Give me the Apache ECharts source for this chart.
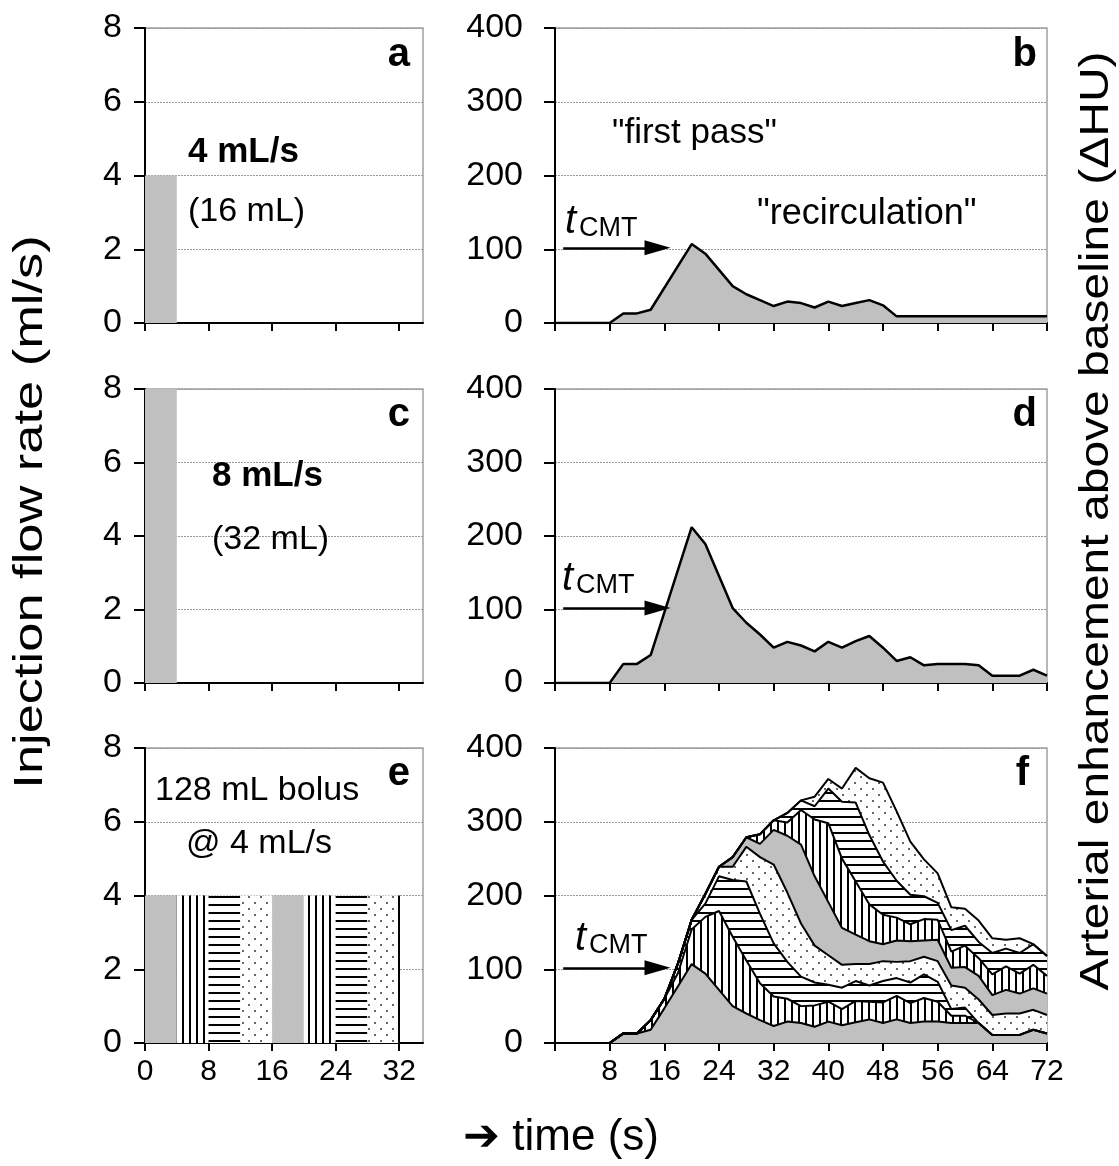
<!DOCTYPE html>
<html><head><meta charset="utf-8">
<script src="https://cdn.jsdelivr.net/npm/echarts@6/dist/echarts.min.js"></script>
<style>html,body{margin:0;padding:0;background:#fff}#c{width:1119px;height:1166px}</style>
</head><body><div id="c"></div>
<script>
// ---------- data ----------
const leftTimeTicks = [0, 8, 16, 24, 32];
const rightTimeTicks = [8, 16, 24, 32, 40, 48, 56, 64, 72];
// injection panels (time s, rate mL/s)
const injTimeA = [0, 4];  const injRateA = [4, 4];
const injTimeC = [0, 4];  const injRateC = [8, 8];
const injStartE = [0, 4, 8, 12, 16, 20, 24, 28];
const injEndE   = [4, 8, 12, 16, 20, 24, 28, 32];
const injRateE  = 4;
// panel b : 4 mL/s, 16 mL
const timeB = [0, 8, 10, 12, 14, 20, 22, 26, 28, 30, 32, 34, 36, 38, 40, 42, 44, 46, 48, 50, 72];
const huB   = [0, 0, 13, 13, 18, 107, 94, 50, 39, 31, 23, 29, 27, 21, 29, 23, 27, 31, 24, 9, 9];
// panel d : 8 mL/s, 32 mL
const timeD = [0, 8, 10, 12, 14, 20, 22, 26, 28, 30, 32, 34, 36, 38, 40, 42, 44, 46, 48, 50, 52, 54, 56, 58, 60, 62, 64, 66, 68, 70, 72];
const huD   = [0, 0, 26, 26, 38, 212, 189, 102, 82, 66, 48, 56, 51, 43, 56, 48, 57, 64, 48, 30, 35, 24, 26, 26, 26, 24, 10, 10, 10, 18, 10];
// panel f : eight 16 mL sub-boluses, response of each (every 2 s), stacked bottom -> top
const timeF = [0,2,4,6,8,10,12,14,16,18,20,22,24,26,28,30,32,34,36,38,40,42,44,46,48,50,52,54,56,58,60,62,64,66,68,70,72];
const huF1 = [0,0,0,0,0,13,13,18,47,77,107,94,72,50,40,31,23,29,27,22,29,24,28,32,27,32,27,29,29,27,27,27,11,11,11,18,13];
const huF2 = [0,0,0,0,0,0,0,13,13,18,47,77,107,94,72,50,40,31,23,29,27,22,29,24,28,32,27,32,27,10,10,0,0,0,0,0,0];
const huF3 = [0,0,0,0,0,0,0,0,0,13,13,18,47,77,107,94,72,50,40,31,23,29,27,22,29,24,28,32,27,9,11,0,0,0,0,0,0];
const huF4 = [0,0,0,0,0,0,0,0,0,0,0,13,13,18,47,77,107,94,72,50,40,31,23,29,27,22,29,24,28,32,27,32,27,29,29,27,25];
const huF5 = [0,0,0,0,0,0,0,0,0,0,0,0,0,13,13,18,47,77,107,94,72,50,40,31,23,29,27,22,29,24,28,32,27,32,27,29,29];
const huF6 = [0,0,0,0,0,0,0,0,0,0,0,0,0,0,0,13,13,18,47,77,107,94,72,50,40,31,23,29,27,22,29,24,28,32,27,32,24];
const huF7 = [0,0,0,0,0,0,0,0,0,0,0,0,0,0,0,0,0,13,13,18,47,77,107,94,72,50,40,31,23,29,27,22,29,24,28,28,27];
const huF8 = [0,0,0,0,0,0,0,0,0,0,0,0,0,0,0,0,0,0,0,13,13,18,47,77,107,94,72,50,40,31,23,29,20,12,20,0,0];
const huF = [huF1, huF2, huF3, huF4, huF5, huF6, huF7, huF8];
const fillCycle = ['gray', 'vert', 'horiz', 'dots'];
const arrowY = 102, arrowT0 = 1.2, arrowT1 = 15.0;

// ---------- styles ----------
const FONT = '"Liberation Sans", Arial, sans-serif';
const GRAY = '#c0c0c0';
function makePattern(kind) {
  if (kind === 'gray') return GRAY;
  const c = document.createElement('canvas');
  const ctx = c.getContext('2d');
  if (kind === 'vert') {
    c.width = 7; c.height = 7;
    ctx.fillStyle = '#fff'; ctx.fillRect(0, 0, 7, 7);
    ctx.fillStyle = '#000'; ctx.fillRect(0, 0, 2, 7);
  } else if (kind === 'horiz') {
    c.width = 8; c.height = 8;
    ctx.fillStyle = '#fff'; ctx.fillRect(0, 0, 8, 8);
    ctx.fillStyle = '#000'; ctx.fillRect(0, 0, 8, 2);
  } else {
    c.width = 12; c.height = 12;
    ctx.fillStyle = '#fff'; ctx.fillRect(0, 0, 12, 12);
    ctx.fillStyle = '#666';
    ctx.fillRect(2, 2, 2, 2); ctx.fillRect(8, 8, 2, 2);
  }
  return { image: c, repeat: 'repeat' };
}

const grids = [
  { left: 145, top: 28, width: 278, height: 295 },
  { left: 555, top: 28, width: 492, height: 295 },
  { left: 145, top: 389, width: 278, height: 294 },
  { left: 555, top: 389, width: 492, height: 294 },
  { left: 145, top: 748, width: 278, height: 295 },
  { left: 555, top: 748, width: 492, height: 295 }
].map(g => Object.assign(g, { show: true, borderColor: '#a0a0a0', borderWidth: 1.5, backgroundColor: 'transparent' }));

const axisLine = { show: true, onZero: false, lineStyle: { color: '#000', width: 2 } };
const splitLine = { show: true, lineStyle: { color: '#999', width: 1, type: [2, 1] } };

const xAxes = [], yAxes = [];
for (let i = 0; i < 6; i++) {
  const left = i % 2 === 0;
  const bottom = i >= 4;
  xAxes.push({
    gridIndex: i, type: 'value', min: 0, max: left ? 35 : 72, interval: 8,
    axisLine, splitLine: { show: false },
    axisTick: { show: true, length: 8, inside: false, lineStyle: { color: '#000', width: 2 },
      customValues: left ? leftTimeTicks : [0].concat(rightTimeTicks) },
    axisLabel: { show: bottom, margin: 14, color: '#000', fontSize: 30,
      fontFamily: '"Liberation Sans Narrow", "Liberation Sans", Arial, sans-serif',
      customValues: left ? leftTimeTicks : rightTimeTicks }
  });
  yAxes.push({
    gridIndex: i, type: 'value', min: 0, max: left ? 8 : 400, interval: left ? 2 : 100,
    axisLine, splitLine,
    axisTick: { show: true, length: 11, lineStyle: { color: '#000', width: 2 } },
    axisLabel: { margin: left ? 23 : 32, color: '#000', fontSize: 34, fontFamily: FONT }
  });
}

function block(gi, ts, vs, kind, extra) {
  return Object.assign({ type: 'line', xAxisIndex: gi, yAxisIndex: gi, data: ts.map((t, k) => [t, vs[k]]),
    showSymbol: false, symbol: 'none', lineStyle: { width: 0 }, areaStyle: { color: makePattern(kind), opacity: 1 },
    silent: true }, extra || {});
}
function arrowLine() {
  return { silent: true, symbol: ['none', 'triangle'], symbolSize: [15, 26], animation: false,
    label: { show: false }, lineStyle: { color: '#000', width: 2.5, type: 'solid' },
    data: [[{ coord: [arrowT0, arrowY] }, { coord: [arrowT1, arrowY] }]] };
}
function curve(gi, ts, vs, fill, extra) {
  return Object.assign({ type: 'line', xAxisIndex: gi, yAxisIndex: gi, data: ts.map((t, k) => [t, vs[k]]),
    showSymbol: false, symbol: 'none', lineStyle: { color: '#000', width: 2.5 },
    areaStyle: { color: fill, opacity: 1 }, silent: true }, extra || {});
}

const series = [];
series.push(block(0, injTimeA, injRateA, 'gray'));
series.push(block(2, injTimeC, injRateC, 'gray'));
const lastE = injEndE.length - 1;
injStartE.forEach((s, k) => series.push(block(4, [s, injEndE[k]], [injRateE, injRateE], fillCycle[k % 4],
  k === lastE ? { markLine: { silent: true, symbol: 'none', animation: false, label: { show: false },
    lineStyle: { color: '#000', width: 2, type: 'solid' },
    data: [[{ coord: [injEndE[k], 0] }, { coord: [injEndE[k], injRateE] }]] } } : {})));
series.push(curve(1, timeB, huB, GRAY, { markLine: arrowLine() }));
series.push(curve(3, timeD, huD, GRAY, { markLine: arrowLine() }));
// stacked layers: running totals, drawn top layer first so each band keeps its own fill
const cumF = [];
huF.forEach((vals, k) => cumF.push(vals.map((v, i) => v + (k ? cumF[k - 1][i] : 0))));
for (let k = huF.length - 1; k >= 0; k--) {
  series.push(curve(5, timeF, cumF[k], makePattern(fillCycle[k % 4]),
    Object.assign({ lineStyle: { color: '#000', width: 2 } }, k === 0 ? { markLine: arrowLine() } : {})));
}

function txt(x, y, text, font, opt) {
  return { type: 'text', x, y, silent: true, z: 100,
    style: Object.assign({ text, font: font + ' ' + FONT, fill: '#000', align: 'left', verticalAlign: 'top' }, opt || {}) };
}
const graphics = [
  txt(410, 35, 'a', 'bold 40px', { align: 'right' }),
  txt(1037, 35, 'b', 'bold 40px', { align: 'right' }),
  txt(410, 395, 'c', 'bold 40px', { align: 'right' }),
  txt(1037, 395, 'd', 'bold 40px', { align: 'right' }),
  txt(410, 754, 'e', 'bold 40px', { align: 'right' }),
  txt(1029, 754, 'f', 'bold 40px', { align: 'right' }),
  txt(188, 135, '4 mL/s', 'bold 35px'),
  txt(188, 195, '(16 mL)', '34px'),
  txt(212, 459, '8 mL/s', 'bold 35px'),
  txt(212, 523, '(32 mL)', '34px'),
  txt(155, 774, '128 mL bolus', '34px'),
  txt(186, 827, '@ 4 mL/s', '34px'),
  txt(612, 116, '"first pass"', '35px'),
  txt(757, 196, '"recirculation"', '36px'),
  txt(565, 236 - 34, 't', 'italic 40px'),
  txt(579, 238 - 23, 'CMT', '27px'),
  txt(562, 593 - 34, 't', 'italic 40px'),
  txt(576, 595 - 23, 'CMT', '27px'),
  txt(575, 953 - 34, 't', 'italic 40px'),
  txt(589, 955 - 23, 'CMT', '27px'),
  { type: 'text', x: 31, y: 512, rotation: Math.PI / 2, scaleX: 1.31, silent: true,
    style: { text: 'Injection flow rate (ml/s)', font: '40px ' + FONT, fill: '#000', align: 'center', verticalAlign: 'middle' } },
  { type: 'text', x: 1097, y: 521, rotation: Math.PI / 2, scaleX: 1.2, silent: true,
    style: { text: 'Arterial enhancement above baseline (ΔHU)', font: '40px ' + FONT, fill: '#000', align: 'center', verticalAlign: 'middle' } },
  { type: 'text', x: 561, y: 1138, silent: true,
    style: { text: '➔ time (s)', font: '44px ' + FONT, fill: '#000', align: 'center', verticalAlign: 'middle' } }
];

const chart = echarts.init(document.getElementById('c'), null, { renderer: 'canvas' });
chart.setOption({ animation: false, backgroundColor: '#fff', grid: grids, xAxis: xAxes, yAxis: yAxes, series, graphic: graphics });
</script></body></html>
